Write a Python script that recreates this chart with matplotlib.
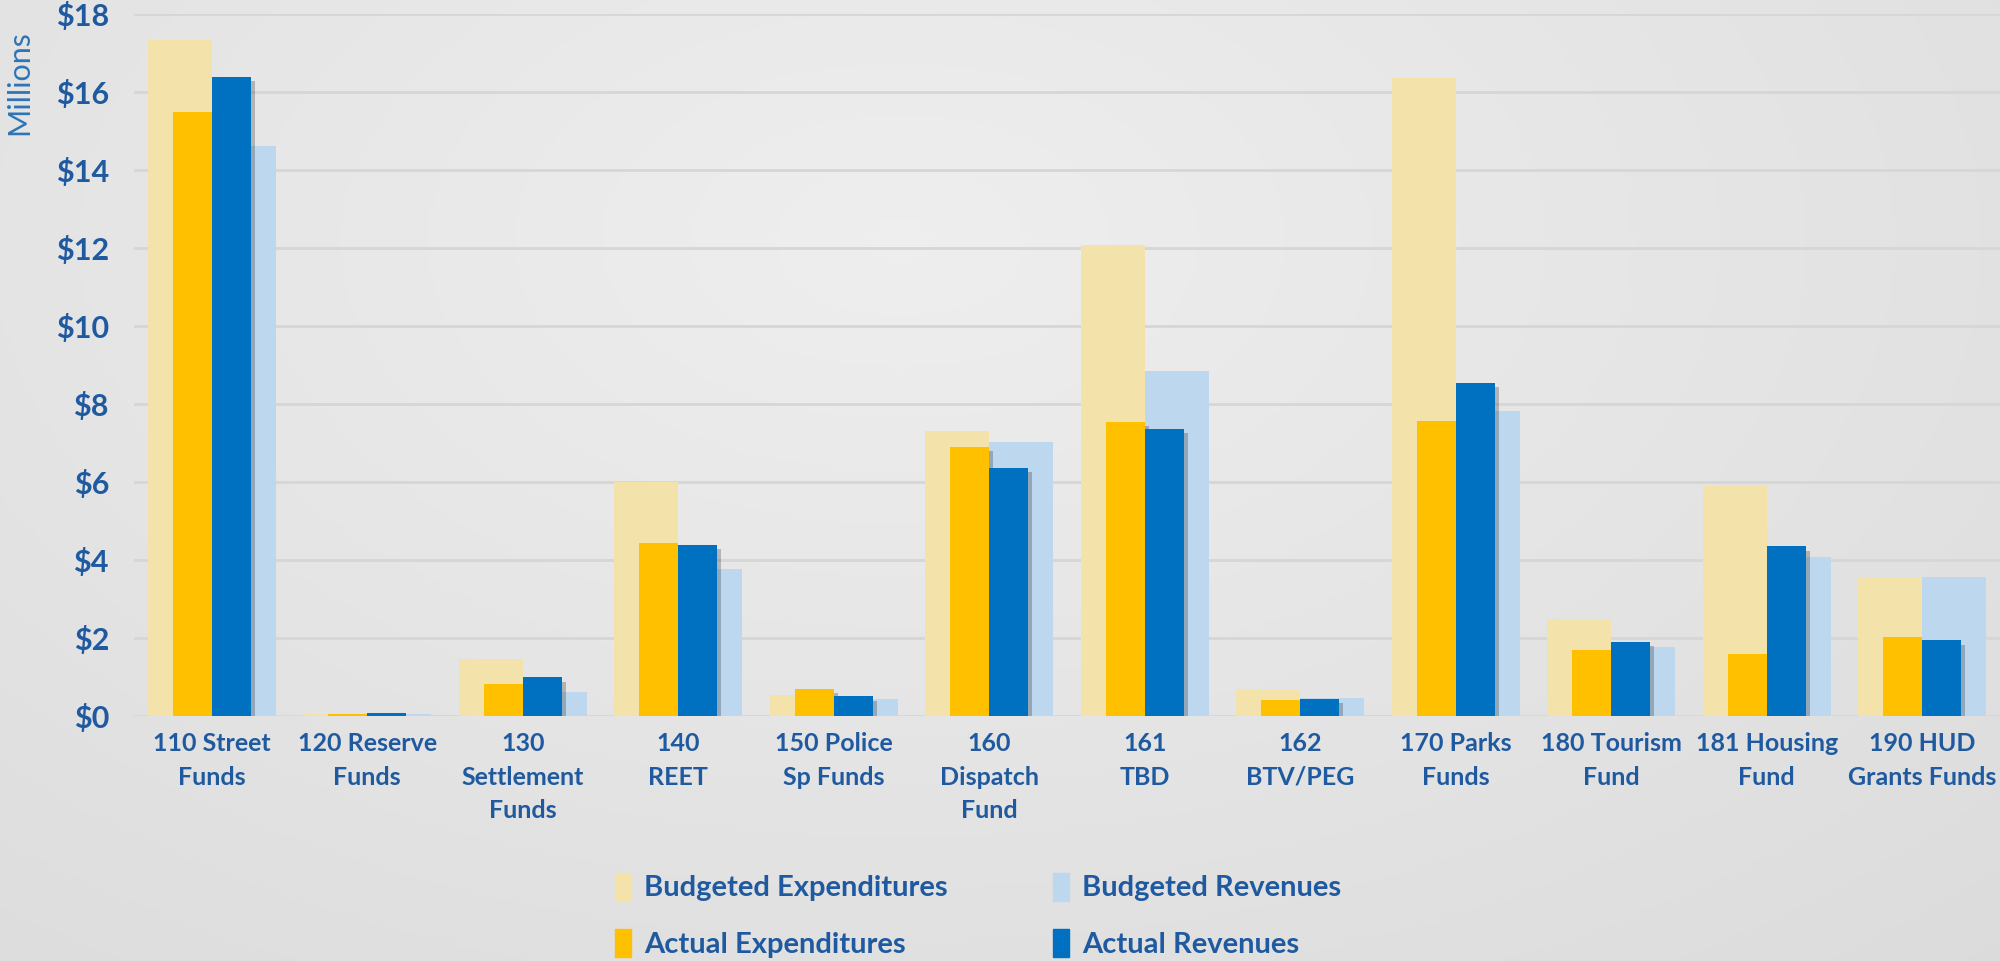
import numpy as np
import matplotlib
matplotlib.use("Agg")
import matplotlib.pyplot as plt
from matplotlib import patheffects as pe
from matplotlib.patches import Patch

plt.rcParams['font.family'] = ['Lato', 'DejaVu Sans']

categories = ["110 Street\nFunds", "120 Reserve\nFunds", "130\nSettlement\nFunds", "140\nREET",
              "150 Police\nSp Funds", "160\nDispatch\nFund", "161\nTBD", "162\nBTV/PEG",
              "170 Parks\nFunds", "180 Tourism\nFund", "181 Housing\nFund", "190 HUD\nGrants Funds"]
budgeted_exp = [17.34, 0.04, 1.45, 5.99, 0.52, 7.30, 12.07, 0.65, 16.36, 2.49, 5.89, 3.56]
budgeted_rev = [14.61, 0.03, 0.60, 3.76, 0.43, 7.03, 8.83, 0.46, 7.82, 1.77, 4.07, 3.56]
actual_exp = [15.48, 0.05, 0.82, 4.42, 0.69, 6.90, 7.53, 0.39, 7.56, 1.68, 1.58, 2.02]
actual_rev = [16.39, 0.07, 0.98, 4.38, 0.49, 6.35, 7.36, 0.43, 8.54, 1.89, 4.34, 1.93]
yticks = [0, 2, 4, 6, 8, 10, 12, 14, 16, 18]

C_BE = '#F3E2A9'
C_BR = '#BDD7EE'
C_AE = '#FFC000'
C_AR = '#0070C0'
TXT = '#1F5AA0'

fig = plt.figure(figsize=(20, 9.61), dpi=100)

# background gradient
bg = fig.add_axes([0, 0, 1, 1], zorder=-10)
yy, xx = np.mgrid[0:1:200j, 0:1:400j]
d = np.sqrt(((xx - 0.45) * 1.0) ** 2 + ((yy - 0.75) * 0.8) ** 2)
g = 0.935 - 0.09 * d
bg.imshow(np.dstack([g, g, g]), extent=[0, 1, 0, 1], aspect='auto', origin='lower')
bg.axis('off')

ax = fig.add_axes([0.067, 0.2554, 0.933, 0.73])
ax.patch.set_alpha(0)
x = np.arange(len(categories))
wb = 0.41
wa = 0.25
ax.bar(x - wb / 2, budgeted_exp, wb, color=C_BE, zorder=2)
ax.bar(x + wb / 2, budgeted_rev, wb, color=C_BR, zorder=2)
shadow = [pe.SimplePatchShadow(offset=(3, -3), shadow_rgbFace='black', alpha=0.22), pe.Normal()]
b1 = ax.bar(x - wa / 2, actual_exp, wa, color=C_AE, zorder=3)
b2 = ax.bar(x + wa / 2, actual_rev, wa, color=C_AR, zorder=4)
for b in list(b1) + list(b2):
    b.set_path_effects(shadow)

ax.set_xlim(-0.5, len(categories) - 0.5)
ax.set_ylim(0, 18)
ax.set_yticks(yticks)
ax.set_yticklabels([f"${v}" for v in yticks], fontsize=22, fontweight='bold', color=TXT)
ax.set_xticks(x)
ax.set_xticklabels(categories, fontsize=18, fontweight='bold', color=TXT, linespacing=1.55)
ax.tick_params(axis='y', length=0, pad=18)
ax.tick_params(axis='x', length=0, pad=12)
ax.grid(axis='y', color='#D6D6D6', linewidth=2, zorder=0)
ax.set_axisbelow(True)
for s in ax.spines.values():
    s.set_visible(False)

fig.text(0.0095, 0.914, "Millions", rotation=90, ha='center', va='center', fontsize=22, color='#2E75B6')

handles = [Patch(color=C_BE), Patch(color=C_AE), Patch(color=C_BR), Patch(color=C_AR)]
labels = ["Budgeted Expenditures", "Actual Expenditures", "Budgeted Revenues", "Actual Revenues"]
leg = fig.legend(handles, labels, ncol=2, loc='center', bbox_to_anchor=(0.489, 0.0475),
                 frameon=False, handlelength=0.55, handleheight=1.1, handletextpad=0.45,
                 columnspacing=3.6, labelspacing=0.95,
                 prop={'size': 21, 'weight': 'bold'})
for t in leg.get_texts():
    t.set_color(TXT)

fig.savefig("out.png", dpi=100)
